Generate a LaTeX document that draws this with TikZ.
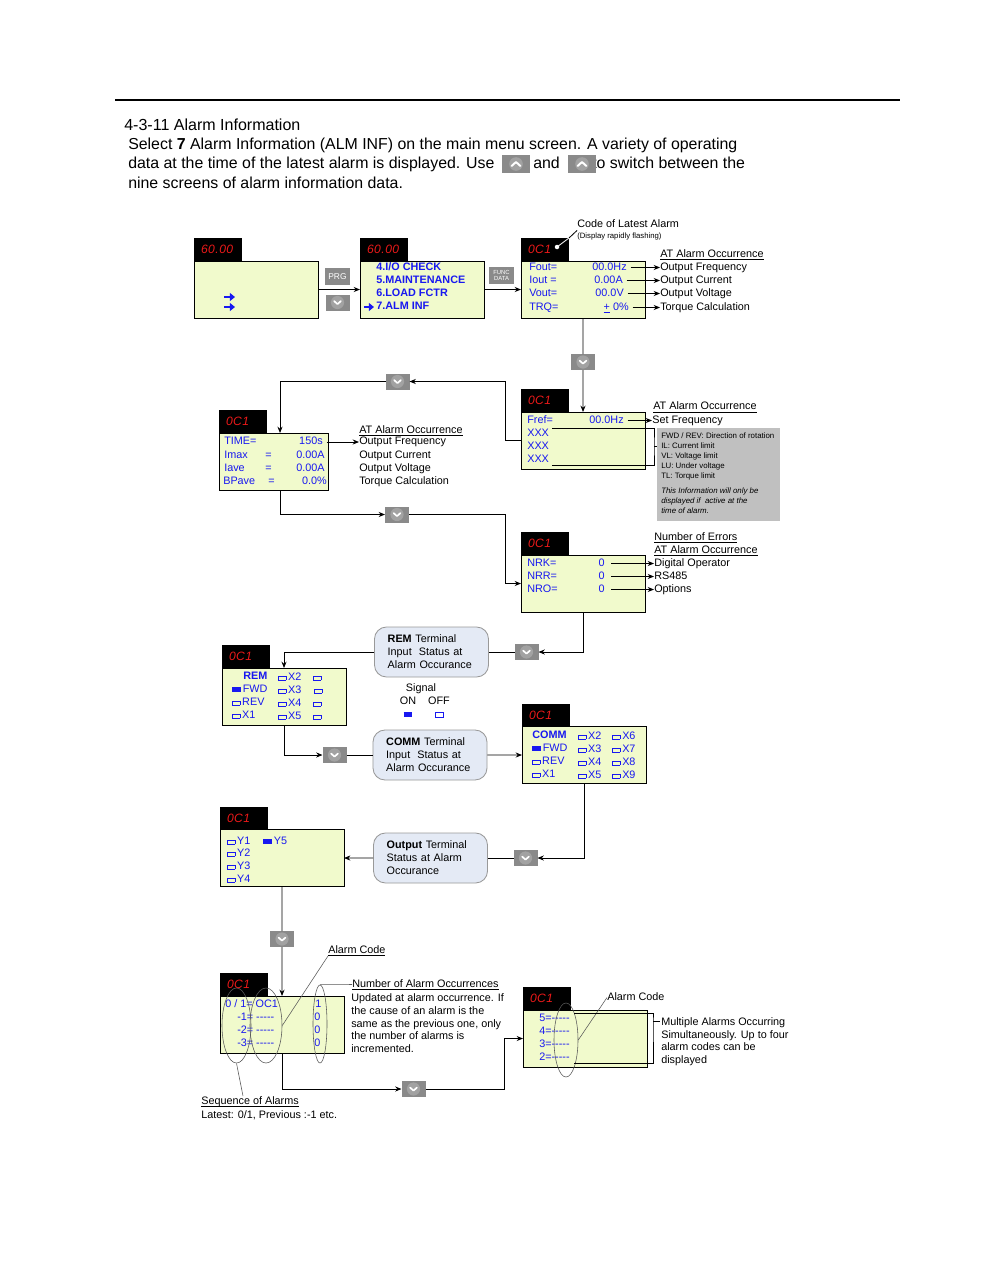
\documentclass[tikz,border=0pt]{standalone}
\usepackage{fontspec}
\setmainfont{Liberation Sans}
\usepackage{xcolor}
\usetikzlibrary{shapes.geometric, arrows.meta, positioning, calc}

\definecolor{lcdfill}{RGB}{241,250,204}
\definecolor{lcdblue}{RGB}{24,24,240}
\definecolor{segred}{RGB}{235,25,25}
\definecolor{keygray}{RGB}{138,138,138}
\definecolor{keydisc}{RGB}{162,162,162}
\definecolor{notefill}{RGB}{228,234,245}
\definecolor{infogray}{RGB}{192,192,192}

% signal boxes used inside the panels
\newcommand{\sigon}{\textcolor{lcdblue}{\rule[0.5pt]{6.2pt}{3.6pt}}}
\newcommand{\sigoff}{{\color{lcdblue}\setlength{\fboxsep}{0pt}\setlength{\fboxrule}{0.6pt}\raisebox{0.5pt}{\fbox{\rule{0pt}{2.4pt}\hspace{4.6pt}}}}}
% underline close to the baseline
\newcommand{\ulabel}[1]{\underline{\smash{#1}}}
\newcommand{\dashes}{-{}-{}-{}-{}-}

\begin{document}
\begin{tikzpicture}[
  x=0.025cm, y=-0.025cm,
  font=\fontsize{7.7}{9.2}\selectfont,
  >={Stealth[length=4.5pt, width=3.6pt]},
  panel/.style={
    rectangle, draw=black, line width=0.6pt, fill=lcdfill,
    minimum width=3.1cm, minimum height=1.425cm, anchor=north west,
    inner sep=0pt, outer sep=0pt
  },
  display/.style={
    rectangle, fill=black, minimum width=1.2cm, minimum height=0.575cm,
    inner sep=0pt, outer sep=0pt, text=segred, text width=0.85cm, align=left,
    font=\fontsize{8.6}{9}\selectfont\itshape\addfontfeatures{LetterSpace=4}
  },
  lcd/.style={anchor=west, inner sep=0pt, text=lcdblue, text height=5.8pt, text depth=1.6pt},
  lcdval/.style={lcd, anchor=east},
  lcdbold/.style={lcd, font=\fontsize{7.7}{9.2}\selectfont\bfseries},
  lbl/.style={anchor=west, inner sep=0pt, text height=5.8pt, text depth=1.6pt},
  tinylbl/.style={lbl, font=\fontsize{5.5}{6.6}\selectfont},
  para/.style={anchor=north west, inner sep=0pt, align=left},
  bodytxt/.style={anchor=west, inner sep=0pt, font=\fontsize{11.3}{13.8}\selectfont,
    text height=8pt, text depth=2.2pt},
  headtxt/.style={bodytxt, font=\fontsize{11.4}{13.8}\selectfont},
  note/.style={
    rectangle, rounded corners=0.3cm, draw=gray!80, line width=0.6pt,
    fill=notefill, minimum width=2.85cm, minimum height=1.25cm,
    text width=2.19cm, inner xsep=0.33cm, align=left
  },
  infobox/.style={rectangle, fill=infogray, anchor=north west,
    minimum width=3.075cm, minimum height=2.325cm, inner sep=0pt},
  keydown/.style={
    rectangle, fill=keygray, minimum width=0.6cm, minimum height=0.4cm,
    inner sep=0pt, outer sep=0pt,
    path picture={
      \fill[keydisc] (path picture bounding box.center) circle (0.165cm);
      \draw[white, line width=1.2pt, line cap=round, line join=round]
        ([shift={(-0.085cm,0.035cm)}]path picture bounding box.center)
        -- ++(0.085cm,-0.075cm) -- ++(0.085cm,0.075cm);
    }
  },
  keyup/.style={
    rectangle, fill=keygray, minimum width=0.7cm, minimum height=0.425cm,
    inner sep=0pt, outer sep=0pt,
    path picture={
      \fill[keydisc] (path picture bounding box.center) circle (0.17cm);
      \draw[white, line width=1.4pt, line cap=round, line join=round]
        ([shift={(-0.11cm,-0.05cm)}]path picture bounding box.center)
        -- ++(0.11cm,0.1cm) -- ++(0.11cm,-0.1cm);
    }
  },
  keytext/.style={rectangle, fill=keygray, minimum width=0.625cm,
    minimum height=0.425cm, inner sep=0pt, text=white, align=center},
  cursor/.style={lcdblue, line width=1.7pt, -{Triangle[length=3.6pt, width=5.6pt]}},
  flow/.style={->, line width=0.6pt},
  link/.style={line width=0.6pt},
  lead/.style={->, line width=0.6pt, shorten <=2.5pt},
  ring/.style={ellipse, draw=black!65, line width=0.4pt, inner sep=0pt},
  callout/.style={draw=black!65, line width=0.4pt}
]

\fill[white] (0,0) rectangle (980,1268);

% Page rule and heading
\draw[line width=1.6pt] (115,100) -- (900,100);
\node[headtxt] (ttl) at (124,126) {4-3-11 Alarm Information};
\node[bodytxt] (txtA) at (128,145) {Select \textbf{7} Alarm Information (ALM INF) on the main menu screen. A variety of operating};
\node[bodytxt] (txtB) at (128,164) {data at the time of the latest alarm is displayed. Use};
\node[bodytxt] (txtAnd) at (533,164) {and};
\node[bodytxt] (txtC) at (592,164) {to switch between the};
\node[keyup] (upA) at (516,164) {};
\node[keyup] (upB) at (582,164) {};
\node[bodytxt] (txtD) at (128,184) {nine screens of alarm information data.};

% Main menu screens
\node[panel] (scrA) at (194,261) {};
\node[display, above right=0pt and 0pt of scrA.north west] (dispA) {60.00};
\draw[cursor] (224,297) -- (235,297);
\draw[cursor] (224,307) -- (235,307);

\node[keytext, font=\fontsize{6}{6}\selectfont] (prg) at (337.5,276.5) {PRG};
\node[keydown] (keyA) at (337.5,302.5) {};

\node[panel] (scrB) at (360,261) {};
\node[display, above right=0pt and 0pt of scrB.north west] (dispB) {60.00};
\node[lcdbold] (mB1) at (376,268) {4.I/O CHECK};
\node[lcdbold] (mB2) at (376,281) {5.MAINTENANCE};
\node[lcdbold] (mB3) at (376,294) {6.LOAD FCTR};
\node[lcdbold] (mB4) at (376,307) {7.ALM INF};
\draw[cursor] (364,307) -- (374,307);

\node[keytext, font=\fontsize{4.2}{4.4}\selectfont] (func) at (501.5,275.5) {FUNC\\DATA};

% Latest alarm screen
\node[panel] (scrC) at (521,261) {};
\node[display, above right=0pt and 0pt of scrC.north west] (dispC) {0C1};

\draw[flow] (scrA) -- (scrB);
\draw[flow] (scrB) -- (scrC);

\node[lcd] (nC1) at (529,267.5) {Fout=};
\node[lcdval] (vC1) at (627,267.5) {00.0Hz};
\node[lcd] (nC2) at (529,280.5) {Iout =};
\node[lcdval] (vC2) at (623,280.5) {0.00A};
\node[lcd] (nC3) at (529,293.5) {Vout=};
\node[lcdval] (vC3) at (624,293.5) {00.0V};
\node[lcd] (nC4) at (529,307.5) {TRQ=};
\node[lcdval] (vC4) at (629,307.5) {\underline{+} 0\%};
\node[lbl] (headC) at (660,254.5) {\ulabel{AT Alarm Occurrence}};
\node[lbl] (oC1) at (660,267.5) {Output Frequency};
\node[lbl] (oC2) at (660,280.5) {Output Current};
\node[lbl] (oC3) at (660,293.5) {Output Voltage};
\node[lbl] (oC4) at (660,307.5) {Torque Calculation};
\foreach \i in {1,...,4}
  \draw[lead] (vC\i) -- (vC\i -| oC\i.west);

\node[lbl] (codeLbl) at (577,225) {Code of Latest Alarm};
\node[tinylbl] (codeSub) at (577,236) {(Display rapidly flashing)};
\coordinate (codeDot) at (557,247);
\fill[white] (codeDot) circle (1.6pt);
\draw[white, line width=0.6pt] (codeDot) -- (dispC.north east);
\draw[link] (dispC.north east) -- (codeLbl.south west);

% Set frequency screen
\node[keydown] (keyC) at (583,362) {};
\node[panel] (scrD) at (521,412) {};
\node[display, above right=0pt and 0pt of scrD.north west] (dispD) {0C1};
\draw[link] (scrC) -- (keyC);
\draw[flow] (keyC) -- (scrD);
\node[lcd] (nD1) at (527,420.5) {Fref=};
\node[lcdval] (vD1) at (624,420.5) {00.0Hz};
\node[lcd] (xD1) at (527,433.5) {XXX};
\node[lcd] (xD2) at (527,446.5) {XXX};
\node[lcd] (xD3) at (527,459.5) {XXX};
\node[lbl] (headD) at (653,407) {\ulabel{AT Alarm Occurrence}};
\node[lbl] (oD1) at (652,420.5) {Set Frequency};
\draw[lead] (vD1) -- (vD1 -| oD1.west);
\draw[link] ([xshift=2pt]xD1.north east) -| (654,446) |- ([xshift=2pt]xD3.south east);
\node[infobox] (info) at (657,428) {};
\draw[link] (654,446) -- (info.west |- 0,446);
\node[para, font=\fontsize{5.6}{7.1}\selectfont] (infoTxt) at (661,432.5)
  {FWD / REV: Direction of rotation\\IL: Current limit\\VL: Voltage limit\\LU: Under voltage\\TL: Torque limit\\[3.5pt]
   \textit{This Information will only be}\\\textit{displayed if\ \ active at the}\\\textit{time of alarm.}};

% Current screen
\node[keydown] (keyD) at (397.5,381.5) {};
\draw[flow] (scrD.west) -- ++(-16,0) |- (keyD.east);
\node[panel, minimum width=2.725cm] (scrE) at (219,433) {};
\node[display, above right=0pt and 0pt of scrE.north west] (dispE) {0C1};
\draw[flow] (keyD.west) -| ($(scrE.north west)+(61,0)$);
\node[lcd] (nE1) at (224,442) {TIME=};
\node[lcdval] (vE1) at (323,442) {150s};
\node[lcd] (nE2) at (224,455.5) {Imax};
\node[lcd] (qE2) at (265,455.5) {=};
\node[lcdval] (vE2) at (325,455.5) {0.00A};
\node[lcd] (nE3) at (224,468.5) {Iave};
\node[lcd] (qE3) at (265,468.5) {=};
\node[lcdval] (vE3) at (325,468.5) {0.00A};
\node[lcd] (nE4) at (223,481.5) {BPave};
\node[lcd] (qE4) at (268,481.5) {=};
\node[lcdval] (vE4) at (327,481.5) {0.0\%};
\node[lbl] (headE) at (359,430.5) {\ulabel{AT Alarm Occurrence}};
\node[lbl] (oE1) at (359,442) {Output Frequency};
\node[lbl] (oE2) at (359,456) {Output Current};
\node[lbl] (oE3) at (359,469) {Output Voltage};
\node[lbl] (oE4) at (359,482) {Torque Calculation};
\draw[lead] (vE1) -- (vE1 -| oE1.west);

% Error count screen
\node[keydown] (keyE) at (397,514.5) {};
\draw[flow] ($(scrE.south west)+(61,0)$) |- (keyE.west);
\node[panel] (scrF) at (521,555) {};
\node[display, above right=0pt and 0pt of scrF.north west] (dispF) {0C1};
\draw[flow] (keyE.east) -- ++(96,0) |- (scrF.west);
\node[lcd] (nF1) at (527,563.5) {NRK=};
\node[lcdval] (vF1) at (605,563.5) {0};
\node[lcd] (nF2) at (527,576.5) {NRR=};
\node[lcdval] (vF2) at (605,576.5) {0};
\node[lcd] (nF3) at (527,589.5) {NRO=};
\node[lcdval] (vF3) at (605,589.5) {0};
\node[lbl] (headF1) at (654,537.5) {\ulabel{Number of Errors}};
\node[lbl] (headF2) at (654,550.5) {\ulabel{AT Alarm Occurrence}};
\node[lbl] (oF1) at (654,563.5) {Digital Operator};
\node[lbl] (oF2) at (654,576.5) {RS485};
\node[lbl] (oF3) at (654,589.5) {Options};
\foreach \i in {1,2,3}
  \draw[lead, shorten <=4.3pt] (vF\i) -- (vF\i -| oF\i.west);

% REM terminal screen
\node[keydown] (keyF) at (526.5,652) {};
\draw[flow] (scrF.south) |- (keyF.east);
\node[note] (remNote) at (431.5,652) {\textbf{REM} Terminal\\Input\ \ Status at\\Alarm Occurance};
\draw[link] (keyF) -- (remNote);
\node[panel] (scrG) at (222,668) {};
\node[display, above right=0pt and 0pt of scrG.north west] (dispG) {0C1};
\draw[flow] (remNote.west) -| (scrG.north);
\node[lcdbold] (gR) at (243,676.5) {REM};
\node[lcd] (gX2) at (278,677.5) {\sigoff\,X2};
\node[lcd] (gS1) at (313,677.5) {\sigoff};
\node[lcd] (gFwd) at (232,689.5) {\sigon\,FWD};
\node[lcd] (gX3) at (278,690.5) {\sigoff\,X3};
\node[lcd] (gS2) at (314,690.5) {\sigoff};
\node[lcd] (gRev) at (232,702.5) {\sigoff\,REV};
\node[lcd] (gX4) at (278,703.5) {\sigoff\,X4};
\node[lcd] (gS3) at (313,703.5) {\sigoff};
\node[lcd] (gX1) at (232,715.5) {\sigoff\,X1};
\node[lcd] (gX5) at (278,716.5) {\sigoff\,X5};
\node[lcd] (gS4) at (313,716.5) {\sigoff};

% Signal legend
\node[lbl, anchor=center] (sigHead) at (421,688.5) {Signal};
\node[lbl, anchor=center] (sigOn) at (408,701.5) {ON};
\node[lbl, anchor=center] (sigOff) at (439,701.5) {OFF};
\node[inner sep=0pt] (sigOnBox) at (408,715) {\sigon};
\node[inner sep=0pt] (sigOffBox) at (439.5,715) {\sigoff};

% COMM terminal screen
\node[keydown] (keyG) at (334.5,755) {};
\draw[flow] (scrG.south) |- (keyG.west);
\node[note] (commNote) at (430,755) {\textbf{COMM} Terminal\\Input\ \ Status at\\Alarm Occurance};
\draw[link] (keyG) -- (commNote);
\node[panel] (scrH) at (522,726.5) {};
\node[display, above right=0pt and 0pt of scrH.north west] (dispH) {0C1};
\draw[flow] (commNote) -- (scrH);
\node[lcdbold] (hR) at (532,735.5) {COMM};
\node[lcd] (hX2) at (578,736.5) {\sigoff\,X2};
\node[lcd] (hX6) at (612,736.5) {\sigoff\,X6};
\node[lcd] (hFwd) at (532,748.5) {\sigon\,FWD};
\node[lcd] (hX3) at (578,749.5) {\sigoff\,X3};
\node[lcd] (hX7) at (612,749.5) {\sigoff\,X7};
\node[lcd] (hRev) at (532,761.5) {\sigoff\,REV};
\node[lcd] (hX4) at (578,762.5) {\sigoff\,X4};
\node[lcd] (hX8) at (612,762.5) {\sigoff\,X8};
\node[lcd] (hX1) at (532,774.5) {\sigoff\,X1};
\node[lcd] (hX5) at (578,775.5) {\sigoff\,X5};
\node[lcd] (hX9) at (612,775.5) {\sigoff\,X9};

% Output terminal screen
\node[keydown] (keyH) at (525.5,858) {};
\draw[flow] (scrH.south) |- (keyH.east);
\node[note] (outNote) at (430.5,858) {\textbf{Output} Terminal\\Status at Alarm\\Occurance};
\draw[link] (keyH) -- (outNote);
\node[panel] (scrI) at (220,829.5) {};
\node[display, above right=0pt and 0pt of scrI.north west] (dispI) {0C1};
\draw[flow] (outNote) -- (scrI);
\node[lcd] (iY1) at (227,841.5) {\sigoff\,Y1};
\node[lcd] (iY5) at (263,841.5) {\sigon\,Y5};
\node[lcd] (iY2) at (227,853.5) {\sigoff\,Y2};
\node[lcd] (iY3) at (227,866.5) {\sigoff\,Y3};
\node[lcd] (iY4) at (227,879.5) {\sigoff\,Y4};

% Alarm history screen
\node[keydown] (keyI) at (282,939) {};
\draw[link] (scrI.south) -- (keyI.north);
\node[panel] (scrJ) at (220,996) {};
\node[display, above right=0pt and 0pt of scrJ.north west] (dispJ) {0C1};
\draw[flow] (keyI.south) -- (scrJ.north);
\node[lcd] (jR1) at (225,1004.5) {0 / 1= OC1};
\node[lcd] (jR2) at (237,1017.5) {-1= \dashes};
\node[lcd] (jR3) at (237,1030.5) {-2= \dashes};
\node[lcd] (jR4) at (237,1043.5) {-3= \dashes};
\node[lcd] (jN1) at (315,1004.5) {1};
\node[lcd] (jN2) at (314,1017.5) {0};
\node[lcd] (jN3) at (314,1030.5) {0};
\node[lcd] (jN4) at (314,1043.5) {0};
\node[ring, minimum width=0.725cm, minimum height=1.875cm] (seqEll) at (236.5,1025.5) {};
\node[ring, minimum width=0.8cm, minimum height=1.875cm] (codeEll) at (266,1025.5) {};
\node[ring, minimum width=0.35cm, minimum height=1.95cm] (cntEll) at (320,1024) {};
\node[lbl] (codeLblJ) at (328,950.5) {\ulabel{Alarm Code}};
\node[lbl] (cntLbl) at (352,984.5) {\ulabel{Number of Alarm Occurrences}};
\node[para] (cntTxt) at (351,993) {Updated at alarm occurrence. If\\the cause of an alarm is the\\same as the previous one, only\\the number of alarms is\\incremented.};
\node[lbl] (seqLbl) at (201,1101.5) {\ulabel{Sequence of Alarms}};
\node[lbl] (seqTxt) at (201,1115.5) {Latest: 0/1, Previous :-1 etc.};
\draw[callout] (seqEll.south) -- ([xshift=1.05cm]seqLbl.north west);
\draw[callout] (codeEll.east) -- (codeLblJ.south west);
\draw[callout] (cntEll.north) -- (cntLbl.west);

% Simultaneous alarms screen
\node[keydown] (keyJ) at (413.5,1089) {};
\draw[flow] (scrJ.south) |- (keyJ.west);
\node[panel] (scrK) at (523,1010) {};
\node[display, above right=0pt and 0pt of scrK.north west] (dispK) {0C1};
\draw[flow] (keyJ.east) -- ++(79,0) |- (scrK.west);
\node[lcd] (kR1) at (539,1018.5) {5=\dashes};
\node[lcd] (kR2) at (539,1031.5) {4=\dashes};
\node[lcd] (kR3) at (539,1044.5) {3=\dashes};
\node[lcd] (kR4) at (539,1057.5) {2=\dashes};
\node[ring, minimum width=0.6cm, minimum height=1.85cm] (altEll) at (566,1040) {};
\node[lbl] (altLbl) at (607,997.5) {Alarm Code};
\draw[callout] (altEll.east) -- (altLbl.west);
\draw[link] ([xshift=3pt]kR1.north east) -| (653,1021) |- ([xshift=3pt]kR4.south east);
\draw[link] (653,1021) -- ++(7,0);
\node[para, font=\fontsize{7.7}{8.9}\selectfont] (multTxt) at (661,1017.5)
  {Multiple Alarms Occurring\\Simultaneously. Up to four\\alarm codes can be\\displayed};

\end{tikzpicture}
\end{document}
